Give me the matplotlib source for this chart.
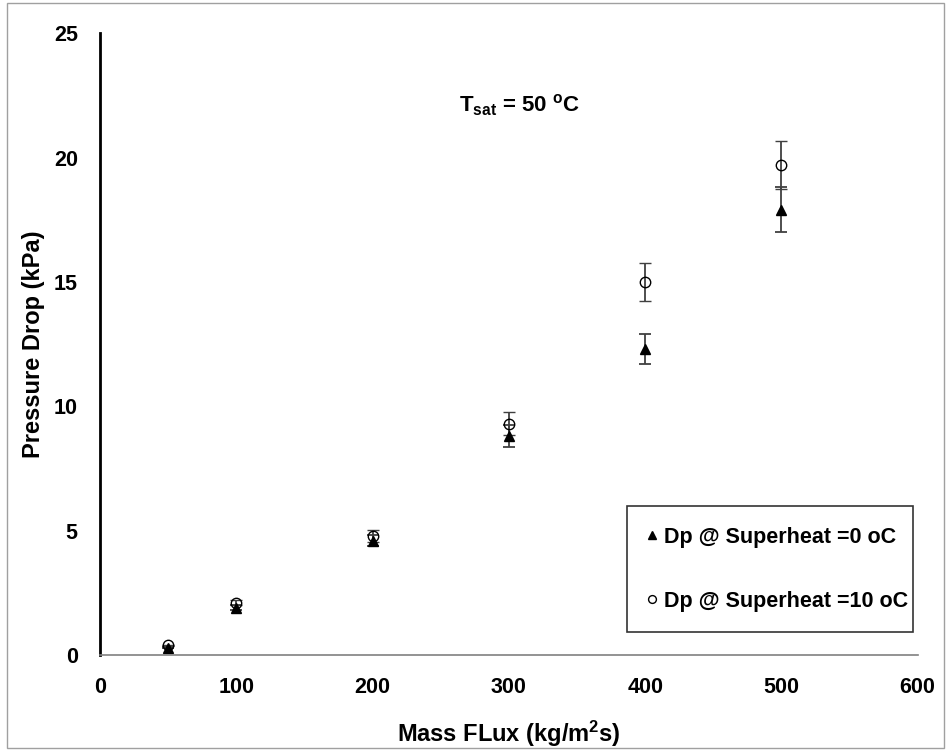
import numpy as np
import matplotlib.pyplot as plt
from matplotlib.patches import Rectangle

plt.rcParams['font.family'] = ['Liberation Sans', 'DejaVu Sans']
plt.rcParams['font.weight'] = 'bold'
plt.rcParams['mathtext.fontset'] = 'custom'
plt.rcParams['mathtext.rm'] = 'Liberation Sans:bold'
plt.rcParams['mathtext.bf'] = 'Liberation Sans:bold'
plt.rcParams['mathtext.default'] = 'rm'

# data
mass_flux = [50, 100, 200, 300, 400, 500]
dp_sh0 = [0.3, 1.9, 4.6, 8.8, 12.3, 17.9]
dp_sh10 = [0.4, 2.1, 4.8, 9.3, 15.0, 19.7]
err_sh0 = [0.02, 0.1, 0.23, 0.44, 0.6, 0.9]
err_sh10 = [0.02, 0.1, 0.24, 0.47, 0.75, 0.98]

fig = plt.figure(figsize=(9.49, 7.53), dpi=100)
ax = fig.add_axes([0.1054, 0.130, 0.8616, 0.826])

ax.errorbar(mass_flux, dp_sh0, yerr=err_sh0, fmt='^', color='black',
            ms=7.5, ecolor='#404040', elinewidth=1.3, capsize=4, capthick=1.3,
            label='Dp @ Superheat =0 oC')
ax.errorbar(mass_flux, dp_sh10, yerr=err_sh10, fmt='o', mfc='none', mec='black',
            ms=7.5, mew=1, ecolor='#404040', elinewidth=1.3, capsize=4, capthick=1.3,
            label='Dp @ Superheat =10 oC')

ax.set_xlim(0, 600)
ax.set_ylim(0, 25)
ax.set_xticks(np.arange(0, 601, 100))
ax.set_yticks(np.arange(0, 26, 5))
ax.tick_params(length=0, labelsize=15.5, pad=16)
for lbl in ax.get_xticklabels() + ax.get_yticklabels():
    lbl.set_fontweight('bold')

ax.spines['top'].set_visible(False)
ax.spines['right'].set_visible(False)
ax.spines['left'].set_color('black')
ax.spines['left'].set_linewidth(2)
ax.spines['bottom'].set_color('#808080')
ax.spines['bottom'].set_linewidth(1.2)

ax.set_xlabel('Mass FLux (kg/m$^{2}$s)', fontsize=17, fontweight='bold', labelpad=15)
ax.set_ylabel('Pressure Drop (kPa)', fontsize=17, fontweight='bold', labelpad=6)

ax.text(0.513, 0.884, 'T$_{sat}$ = 50 $^{o}$C', transform=ax.transAxes,
        fontsize=16, fontweight='bold', ha='center', va='center')

handles, labels = ax.get_legend_handles_labels()
handles = [h[0] for h in handles]
leg = ax.legend(handles, labels, loc='lower left', mode='expand',
                bbox_to_anchor=(0.644, 0.037, 0.35, 0.204),
                prop={'weight': 'bold', 'size': 15.5}, frameon=True,
                fancybox=False, edgecolor='black', labelspacing=2.0,
                handlelength=0.5, handletextpad=0.3, markerscale=0.75,
                borderpad=0.95, borderaxespad=0)
leg.get_frame().set_linewidth(1.2)

fig.patches.append(Rectangle((0.007, 0.006), 0.988, 0.99, transform=fig.transFigure,
                             fill=False, edgecolor='#a0a0a0', linewidth=1))

fig.savefig('out.png', dpi=100)
